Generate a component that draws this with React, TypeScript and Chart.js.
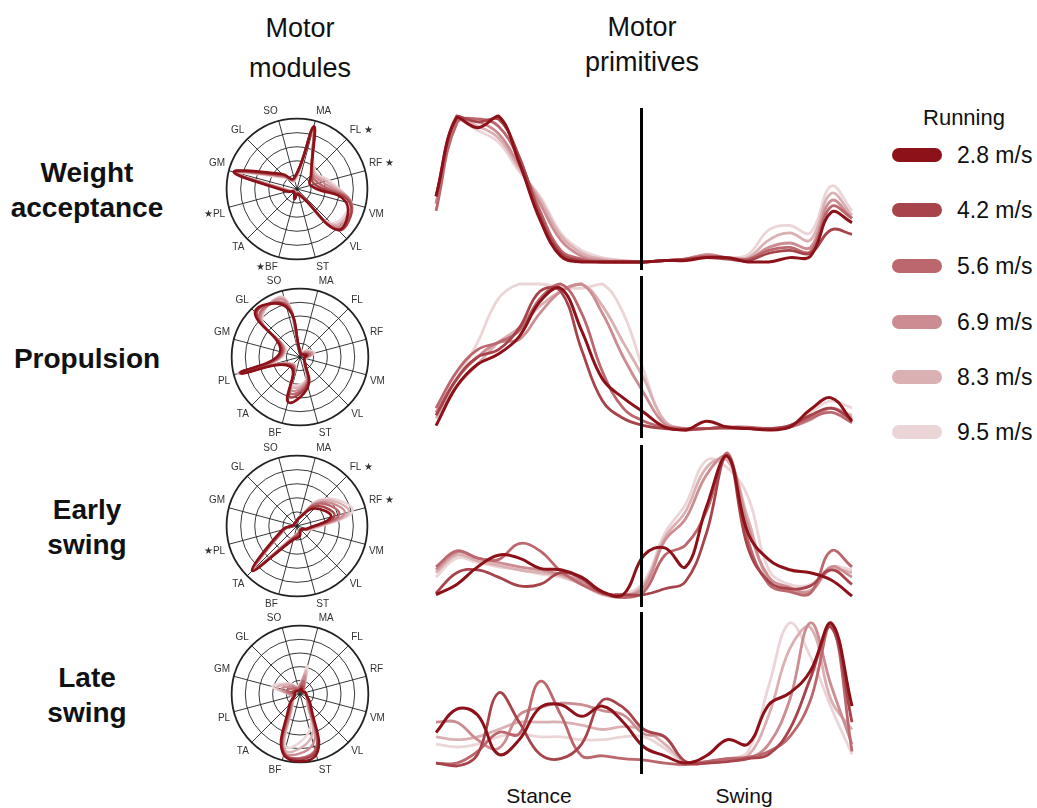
import React, { useEffect, useRef } from "react";
import { Chart, registerables } from "chart.js";
Chart.register(...registerables);

const FONT = "'Liberation Sans', Arial, Helvetica, sans-serif";

const speeds = ["2.8 m/s", "4.2 m/s", "5.6 m/s", "6.9 m/s", "8.3 m/s", "9.5 m/s"];
const speedColors = ["#8c1119", "#a7444b", "#bb676d", "#cb8d92", "#dbb0b3", "#ecd5d7"];

const muscles = ["MA", "FL", "RF", "VM", "VL", "ST", "BF", "TA", "PL", "GM", "GL", "SO"];
const starredWA = ["FL", "RF", "BF", "PL"];
const starredES = ["FL", "RF", "PL"];
const starredP: string[] = [];
const starredLS: string[] = [];

const rowTitles = [["Weight", "acceptance"], ["Propulsion"], ["Early", "swing"], ["Late", "swing"]];

// gait cycle (%)
const cycle = [0, 5, 10, 15, 20, 25, 30, 35, 40, 45, 50, 55, 60, 65, 70, 75, 80, 85, 90, 95, 100];
const stanceEnd = 49.4;

// ---- Motor modules (muscle weights), order: MA FL RF VM VL ST BF TA PL GM GL SO
const modWA_28 = [0.92, 0.28, 0.2, 0.72, 0.82, 0.08, 0.15, 0.06, 0.14, 0.93, 0.3, 0.16];
const modWA_42 = [0.9, 0.29, 0.26, 0.78, 0.83, 0.07, 0.14, 0.06, 0.13, 0.92, 0.28, 0.16];
const modWA_56 = [0.88, 0.3, 0.32, 0.8, 0.8, 0.06, 0.13, 0.05, 0.12, 0.9, 0.26, 0.15];
const modWA_69 = [0.86, 0.32, 0.38, 0.8, 0.76, 0.06, 0.12, 0.05, 0.11, 0.9, 0.25, 0.14];
const modWA_83 = [0.85, 0.34, 0.43, 0.78, 0.72, 0.05, 0.1, 0.05, 0.1, 0.88, 0.24, 0.13];
const modWA_95 = [0.84, 0.36, 0.47, 0.76, 0.68, 0.05, 0.1, 0.04, 0.1, 0.86, 0.22, 0.12];

const modP_28 = [0.04, 0.05, 0.1, 0.06, 0.1, 0.45, 0.68, 0.2, 0.9, 0.3, 0.93, 0.75];
const modP_42 = [0.05, 0.06, 0.12, 0.07, 0.1, 0.42, 0.6, 0.18, 0.9, 0.28, 0.9, 0.78];
const modP_56 = [0.05, 0.08, 0.15, 0.07, 0.09, 0.4, 0.55, 0.17, 0.9, 0.26, 0.85, 0.8];
const modP_69 = [0.05, 0.1, 0.18, 0.08, 0.09, 0.38, 0.5, 0.16, 0.92, 0.25, 0.82, 0.85];
const modP_83 = [0.06, 0.12, 0.2, 0.08, 0.08, 0.36, 0.45, 0.15, 0.92, 0.24, 0.8, 0.88];
const modP_95 = [0.06, 0.14, 0.22, 0.08, 0.08, 0.34, 0.42, 0.14, 0.93, 0.22, 0.78, 0.9];

const modES_28 = [0.12, 0.35, 0.5, 0.15, 0.08, 0.15, 0.2, 0.9, 0.22, 0.05, 0.05, 0.06];
const modES_42 = [0.12, 0.4, 0.55, 0.15, 0.07, 0.12, 0.18, 0.9, 0.2, 0.05, 0.05, 0.06];
const modES_56 = [0.12, 0.45, 0.62, 0.16, 0.07, 0.1, 0.17, 0.88, 0.19, 0.05, 0.05, 0.06];
const modES_69 = [0.12, 0.48, 0.7, 0.17, 0.07, 0.1, 0.16, 0.87, 0.18, 0.05, 0.05, 0.06];
const modES_83 = [0.13, 0.52, 0.76, 0.18, 0.07, 0.09, 0.15, 0.86, 0.18, 0.05, 0.05, 0.06];
const modES_95 = [0.14, 0.55, 0.82, 0.2, 0.07, 0.09, 0.15, 0.85, 0.18, 0.05, 0.05, 0.06];

const modLS_28 = [0.08, 0.05, 0.08, 0.1, 0.22, 0.92, 0.92, 0.22, 0.08, 0.08, 0.06, 0.05];
const modLS_42 = [0.12, 0.06, 0.08, 0.1, 0.2, 0.88, 0.9, 0.2, 0.08, 0.12, 0.08, 0.06];
const modLS_56 = [0.2, 0.08, 0.08, 0.1, 0.18, 0.85, 0.9, 0.18, 0.1, 0.2, 0.12, 0.08];
const modLS_69 = [0.28, 0.08, 0.08, 0.1, 0.16, 0.75, 0.88, 0.16, 0.12, 0.28, 0.16, 0.1];
const modLS_83 = [0.35, 0.08, 0.08, 0.1, 0.15, 0.65, 0.85, 0.15, 0.12, 0.35, 0.2, 0.1];
const modLS_95 = [0.42, 0.08, 0.08, 0.1, 0.14, 0.55, 0.8, 0.14, 0.12, 0.42, 0.22, 0.12];

// ---- Motor primitives (normalised activation over the gait cycle)
const primWA_28 = [0.45, 0.99, 0.92, 1.0, 0.68, 0.29, 0.04, 0.0, 0.0, 0.0, 0.0, 0.01, 0.01, 0.03, 0.03, 0.0, 0.0, 0.03, 0.04, 0.34, 0.27];
const primWA_42 = [0.45, 1.0, 0.96, 0.98, 0.72, 0.32, 0.06, 0.01, 0.0, 0.0, 0.0, 0.01, 0.02, 0.03, 0.02, 0.01, 0.06, 0.08, 0.06, 0.22, 0.19];
const primWA_56 = [0.35, 0.95, 0.98, 0.93, 0.7, 0.35, 0.08, 0.02, 0.0, 0.0, 0.0, 0.01, 0.02, 0.04, 0.03, 0.02, 0.08, 0.1, 0.07, 0.38, 0.3];
const primWA_69 = [0.4, 0.98, 0.96, 0.88, 0.66, 0.4, 0.15, 0.04, 0.01, 0.0, 0.0, 0.01, 0.02, 0.05, 0.03, 0.02, 0.1, 0.13, 0.1, 0.42, 0.3];
const primWA_83 = [0.4, 0.97, 0.93, 0.85, 0.64, 0.43, 0.18, 0.06, 0.02, 0.01, 0.0, 0.01, 0.02, 0.05, 0.03, 0.03, 0.15, 0.2, 0.15, 0.47, 0.32];
const primWA_95 = [0.4, 0.96, 0.9, 0.82, 0.62, 0.45, 0.2, 0.08, 0.03, 0.01, 0.0, 0.01, 0.02, 0.04, 0.03, 0.05, 0.22, 0.25, 0.2, 0.52, 0.35];

const primP_28 = [0.03, 0.3, 0.45, 0.52, 0.64, 0.88, 0.97, 0.68, 0.35, 0.22, 0.12, 0.02, 0.0, 0.06, 0.02, 0.01, 0.0, 0.02, 0.14, 0.22, 0.06];
const primP_42 = [0.1, 0.35, 0.5, 0.55, 0.7, 0.95, 0.95, 0.55, 0.2, 0.08, 0.03, 0.01, 0.0, 0.01, 0.02, 0.01, 0.01, 0.03, 0.1, 0.15, 0.07];
const primP_56 = [0.15, 0.4, 0.55, 0.6, 0.68, 0.9, 1.0, 0.8, 0.4, 0.15, 0.06, 0.02, 0.01, 0.01, 0.02, 0.02, 0.01, 0.02, 0.08, 0.12, 0.05];
const primP_69 = [0.12, 0.35, 0.5, 0.6, 0.62, 0.8, 0.95, 1.0, 0.8, 0.5, 0.25, 0.04, 0.01, 0.01, 0.01, 0.01, 0.01, 0.02, 0.07, 0.15, 0.08];
const primP_83 = [0.08, 0.3, 0.45, 0.6, 0.7, 0.85, 0.95, 1.0, 0.85, 0.6, 0.35, 0.06, 0.01, 0.01, 0.01, 0.01, 0.01, 0.03, 0.1, 0.15, 0.1];
const primP_95 = [0.1, 0.35, 0.6, 0.9, 1.0, 1.0, 0.98, 0.97, 1.0, 0.8, 0.4, 0.05, 0.0, 0.01, 0.01, 0.01, 0.01, 0.02, 0.12, 0.2, 0.15];

const primES_28 = [0.03, 0.1, 0.22, 0.3, 0.28, 0.21, 0.2, 0.15, 0.05, 0.03, 0.3, 0.35, 0.22, 0.63, 0.98, 0.45, 0.27, 0.2, 0.18, 0.13, 0.02];
const primES_42 = [0.04, 0.18, 0.2, 0.15, 0.09, 0.1, 0.18, 0.14, 0.04, 0.03, 0.03, 0.07, 0.12, 0.45, 0.98, 0.35, 0.12, 0.07, 0.09, 0.2, 0.1];
const primES_56 = [0.22, 0.33, 0.28, 0.27, 0.38, 0.33, 0.19, 0.1, 0.04, 0.01, 0.05, 0.3, 0.37, 0.6, 1.0, 0.4, 0.1, 0.05, 0.04, 0.33, 0.22];
const primES_69 = [0.2, 0.32, 0.28, 0.25, 0.22, 0.2, 0.17, 0.12, 0.04, 0.02, 0.08, 0.4, 0.55, 0.85, 0.98, 0.5, 0.15, 0.08, 0.05, 0.22, 0.15];
const primES_83 = [0.18, 0.3, 0.26, 0.23, 0.2, 0.18, 0.16, 0.1, 0.03, 0.02, 0.1, 0.42, 0.6, 0.9, 0.95, 0.55, 0.12, 0.06, 0.06, 0.2, 0.18];
const primES_95 = [0.15, 0.28, 0.25, 0.22, 0.2, 0.17, 0.15, 0.1, 0.03, 0.03, 0.12, 0.45, 0.65, 0.95, 0.9, 0.7, 0.2, 0.1, 0.1, 0.22, 0.2];

const primLS_28 = [0.23, 0.39, 0.35, 0.08, 0.18, 0.4, 0.42, 0.34, 0.41, 0.3, 0.13, 0.07, 0.02, 0.07, 0.18, 0.15, 0.42, 0.5, 0.65, 0.98, 0.41];
const primLS_42 = [0.02, 0.0, 0.08, 0.5, 0.3, 0.08, 0.05, 0.15, 0.45, 0.4, 0.25, 0.2, 0.03, 0.02, 0.03, 0.05, 0.08, 0.25, 0.6, 0.95, 0.3];
const primLS_56 = [0.02, 0.02, 0.1, 0.23, 0.22, 0.58, 0.35, 0.07, 0.07, 0.05, 0.04, 0.02, 0.01, 0.03, 0.05, 0.06, 0.1, 0.2, 0.45, 0.97, 0.1];
const primLS_69 = [0.3, 0.3, 0.18, 0.12, 0.35, 0.4, 0.43, 0.42, 0.38, 0.35, 0.22, 0.2, 0.02, 0.02, 0.04, 0.05, 0.15, 0.45, 0.98, 0.55, 0.15];
const primLS_83 = [0.2, 0.18, 0.2, 0.25, 0.3, 0.3, 0.3, 0.28, 0.25, 0.27, 0.25, 0.15, 0.03, 0.03, 0.05, 0.07, 0.35, 0.8, 0.95, 0.45, 0.25];
const primLS_95 = [0.15, 0.13, 0.15, 0.2, 0.22, 0.2, 0.2, 0.18, 0.18, 0.2, 0.2, 0.12, 0.02, 0.03, 0.05, 0.1, 0.55, 0.98, 0.75, 0.4, 0.08];

const modules = [
  [modWA_28, modWA_42, modWA_56, modWA_69, modWA_83, modWA_95],
  [modP_28, modP_42, modP_56, modP_69, modP_83, modP_95],
  [modES_28, modES_42, modES_56, modES_69, modES_83, modES_95],
  [modLS_28, modLS_42, modLS_56, modLS_69, modLS_83, modLS_95],
];
const primitives = [
  [primWA_28, primWA_42, primWA_56, primWA_69, primWA_83, primWA_95],
  [primP_28, primP_42, primP_56, primP_69, primP_83, primP_95],
  [primES_28, primES_42, primES_56, primES_69, primES_83, primES_95],
  [primLS_28, primLS_42, primLS_56, primLS_69, primLS_83, primLS_95],
];
const starred = [starredWA, starredP, starredES, starredLS];

// layout (pixels)
const rowCenters = [190, 358, 527, 695];
const primTops = [116, 284, 453, 620];
const PRIM_H = 146;
const RADAR_SIZE = 194;

function labelWithStar(m: string, stars: string[]) {
  if (!stars.includes(m)) return m;
  const idx = muscles.indexOf(m);
  return idx <= 5 ? m + " \u2605" : "\u2605" + m;
}

function Radar({ row }: { row: number }) {
  const ref = useRef<HTMLCanvasElement>(null);
  useEffect(() => {
    const labels = muscles.map((m) => labelWithStar(m, starred[row]));
    const pad = starred[row].length ? 0 : 11;
    const chart = new Chart(ref.current!, {
      type: "radar",
      data: {
        labels,
        datasets: modules[row].map((vals, i) => ({
          label: speeds[i],
          data: vals,
          borderColor: speedColors[i],
          backgroundColor: "transparent",
          borderWidth: i === 0 ? 2.6 : 2.4,
          pointRadius: 0,
          tension: 0.45,
          fill: false,
        })),
      },
      options: {
        animation: false,
        responsive: false,
        events: [],
        layout: { padding: pad },
        plugins: { legend: { display: false }, tooltip: { enabled: false } },
        scales: {
          r: {
            min: 0,
            max: 1,
            startAngle: 15,
            ticks: { display: false, stepSize: 0.2 },
            grid: {
              circular: true,
              color: "#222",
              lineWidth: (c: any) => (c.tick && c.tick.value >= 1 ? 1.8 : 0.9),
            },
            angleLines: { color: "#222", lineWidth: 0.9 },
            pointLabels: { font: { family: FONT, size: 10 }, color: "#333", padding: 4 },
          },
        },
      },
    });
    return () => chart.destroy();
  }, [row]);
  return (
    <canvas
      ref={ref}
      width={RADAR_SIZE}
      height={RADAR_SIZE}
      style={{ position: "absolute", left: 300 - RADAR_SIZE / 2, top: rowCenters[row] - RADAR_SIZE / 2, width: RADAR_SIZE, height: RADAR_SIZE }}
    />
  );
}

const stanceLine = {
  id: "stanceLine",
  afterDatasetsDraw(chart: any) {
    const { ctx, chartArea, scales } = chart;
    const x = scales.x.getPixelForValue(stanceEnd);
    ctx.save();
    ctx.strokeStyle = "#000";
    ctx.lineWidth = 3;
    ctx.beginPath();
    ctx.moveTo(x, chartArea.top - 8);
    ctx.lineTo(x, chartArea.bottom + 8);
    ctx.stroke();
    ctx.restore();
  },
};

function Primitive({ row }: { row: number }) {
  const ref = useRef<HTMLCanvasElement>(null);
  useEffect(() => {
    const chart = new Chart(ref.current!, {
      type: "line",
      data: {
        datasets: primitives[row].map((vals, i) => ({
          label: speeds[i],
          data: vals.map((v, k) => ({ x: cycle[k], y: v })),
          borderColor: speedColors[i],
          backgroundColor: speedColors[i],
          borderWidth: i === 0 ? 3 : 2.8,
          pointRadius: 0,
          tension: 0.4,
          fill: false,
          clip: false as any,
        })),
      },
      options: {
        animation: false,
        responsive: false,
        events: [],
        layout: { padding: { left: 6, right: 8, top: 10, bottom: 10 } },
        plugins: { legend: { display: false }, tooltip: { enabled: false } },
        scales: {
          x: { type: "linear", min: 0, max: 100, display: false },
          y: { min: 0, max: 1, display: false },
        },
      },
      plugins: [stanceLine],
    });
    return () => chart.destroy();
  }, [row]);
  return (
    <canvas
      ref={ref}
      width={430}
      height={PRIM_H + 20}
      style={{ position: "absolute", left: 430, top: primTops[row] - 10, width: 430, height: PRIM_H + 20 }}
    />
  );
}

export default function App() {
  return (
    <div style={{ position: "absolute", left: 0, top: 0, width: 1037, height: 808, background: "#fff", fontFamily: FONT, color: "#111", overflow: "hidden" }}>
      <div style={{ position: "absolute", left: 200, width: 200, top: 8, textAlign: "center", fontSize: 27, lineHeight: "40px" }}>
        Motor<br />modules
      </div>
      <div style={{ position: "absolute", left: 542, width: 200, top: 10, textAlign: "center", fontSize: 27, lineHeight: "35px" }}>
        Motor<br />primitives
      </div>
      {rowTitles.map((t, r) => (
        <div
          key={r}
          style={{
            position: "absolute",
            left: 0,
            width: 174,
            top: rowCenters[r],
            transform: "translateY(-50%)",
            textAlign: "center",
            fontWeight: "bold",
            fontSize: 28,
            lineHeight: "35px",
          }}
        >
          {t.map((s, k) => (
            <div key={k}>{s}</div>
          ))}
        </div>
      ))}
      {[0, 1, 2, 3].map((r) => (
        <Radar key={"r" + r} row={r} />
      ))}
      {[0, 1, 2, 3].map((r) => (
        <Primitive key={"p" + r} row={r} />
      ))}
      <div style={{ position: "absolute", left: 499, width: 80, top: 784, textAlign: "center", fontSize: 21 }}>Stance</div>
      <div style={{ position: "absolute", left: 704, width: 80, top: 784, textAlign: "center", fontSize: 21 }}>Swing</div>
      <div style={{ position: "absolute", left: 904, width: 120, top: 105, textAlign: "center", fontSize: 22 }}>Running</div>
      {speeds.map((s, i) => {
        const cy = [155, 210, 266, 322, 377, 432][i];
        return (
          <div key={s}>
            <div style={{ position: "absolute", left: 892, top: cy - 7, width: 50, height: 14, borderRadius: 7, background: speedColors[i] }} />
            <div style={{ position: "absolute", left: 957, top: cy - 13, fontSize: 23, lineHeight: "26px", whiteSpace: "nowrap" }}>{s}</div>
          </div>
        );
      })}
    </div>
  );
}
